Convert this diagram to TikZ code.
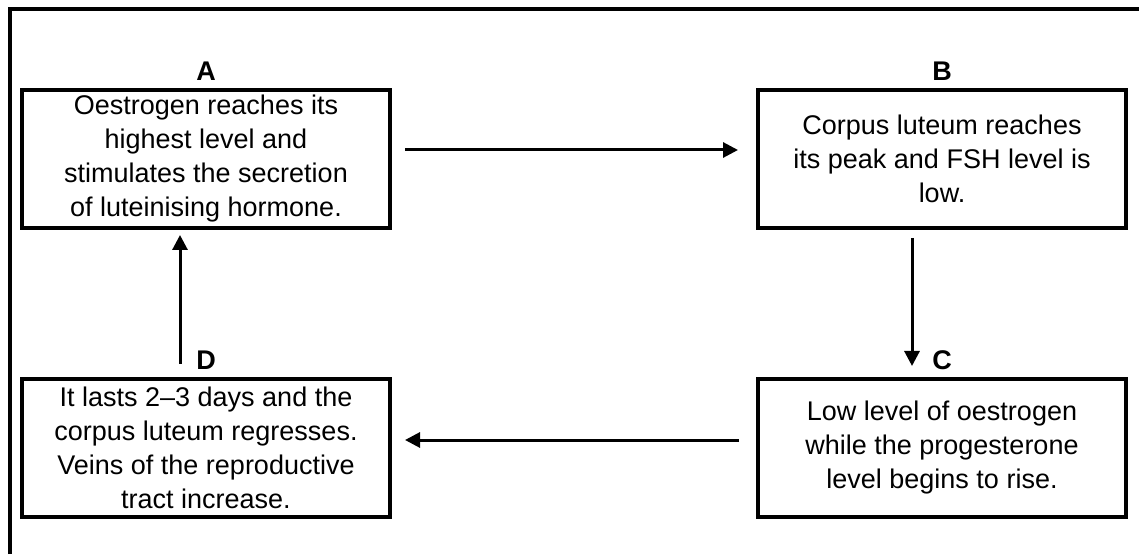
\documentclass[tikz,border=0pt]{standalone}
\usepackage{fontspec}
\setmainfont{Liberation Sans}
\usetikzlibrary{positioning, arrows.meta}

\begin{document}
\begin{tikzpicture}[
			x=1pt, y=1pt,
			node distance=289pt and 736pt,
			on grid,
			box/.style={
				draw,
				rectangle,
				line width=4pt,
				outer sep=0pt,
				minimum width=368pt,
				minimum height=138pt,
				align=center,
				font=\fontsize{27}{34}\selectfont
			},
			tag/.style={
				anchor=base,
				inner sep=0pt,
				font=\fontsize{27}{34}\selectfont\bfseries
			},
			flow/.style={
				draw,
				-{Triangle[length=15pt,width=15pt]},
				line width=3pt
			}
			]
			\useasboundingbox (0,0) rectangle (1139,554);
			% frame
			\draw[line width=4pt] (10,0) -- (10,545) -- (1139,545);
			
			% Stages
			\node[box] (A) at (206,395) {Oestrogen reaches its\\highest level and\\stimulates the secretion\\of luteinising hormone.};
			\node[box, right=of A] (B) {Corpus luteum reaches\\its peak and FSH level is\\low.};
			\node[box, below=of B] (C) {Low level of oestrogen\\while the progesterone\\level begins to rise.};
			\node[box, below=of A] (D) {It lasts 2--3 days and the\\corpus luteum regresses.\\Veins of the reproductive\\tract increase.};
			
			% Labels
			\node[tag] (tagA) at ([yshift=9pt]A.north) {A};
			\node[tag] (tagB) at ([yshift=9pt]B.north) {B};
			\node[tag] (tagC) at ([yshift=9pt]C.north) {C};
			\node[tag] (tagD) at ([yshift=9pt]D.north) {D};
			
			% Transitions
			\draw[flow] ([xshift=15pt,yshift=9pt]A.east) -- ([xshift=-20pt,yshift=9pt]B.west);
			\draw[flow] ([xshift=-30pt,yshift=-10pt]B.south) -- ([xshift=-30pt,yshift=13pt]C.north);
			\draw[flow] ([xshift=-19pt,yshift=8pt]C.west) -- ([xshift=15pt,yshift=8pt]D.east);
			\draw[flow] ([xshift=-26pt,yshift=15pt]D.north) -- ([xshift=-26pt,yshift=-7pt]A.south);
		\end{tikzpicture}
\end{document}
